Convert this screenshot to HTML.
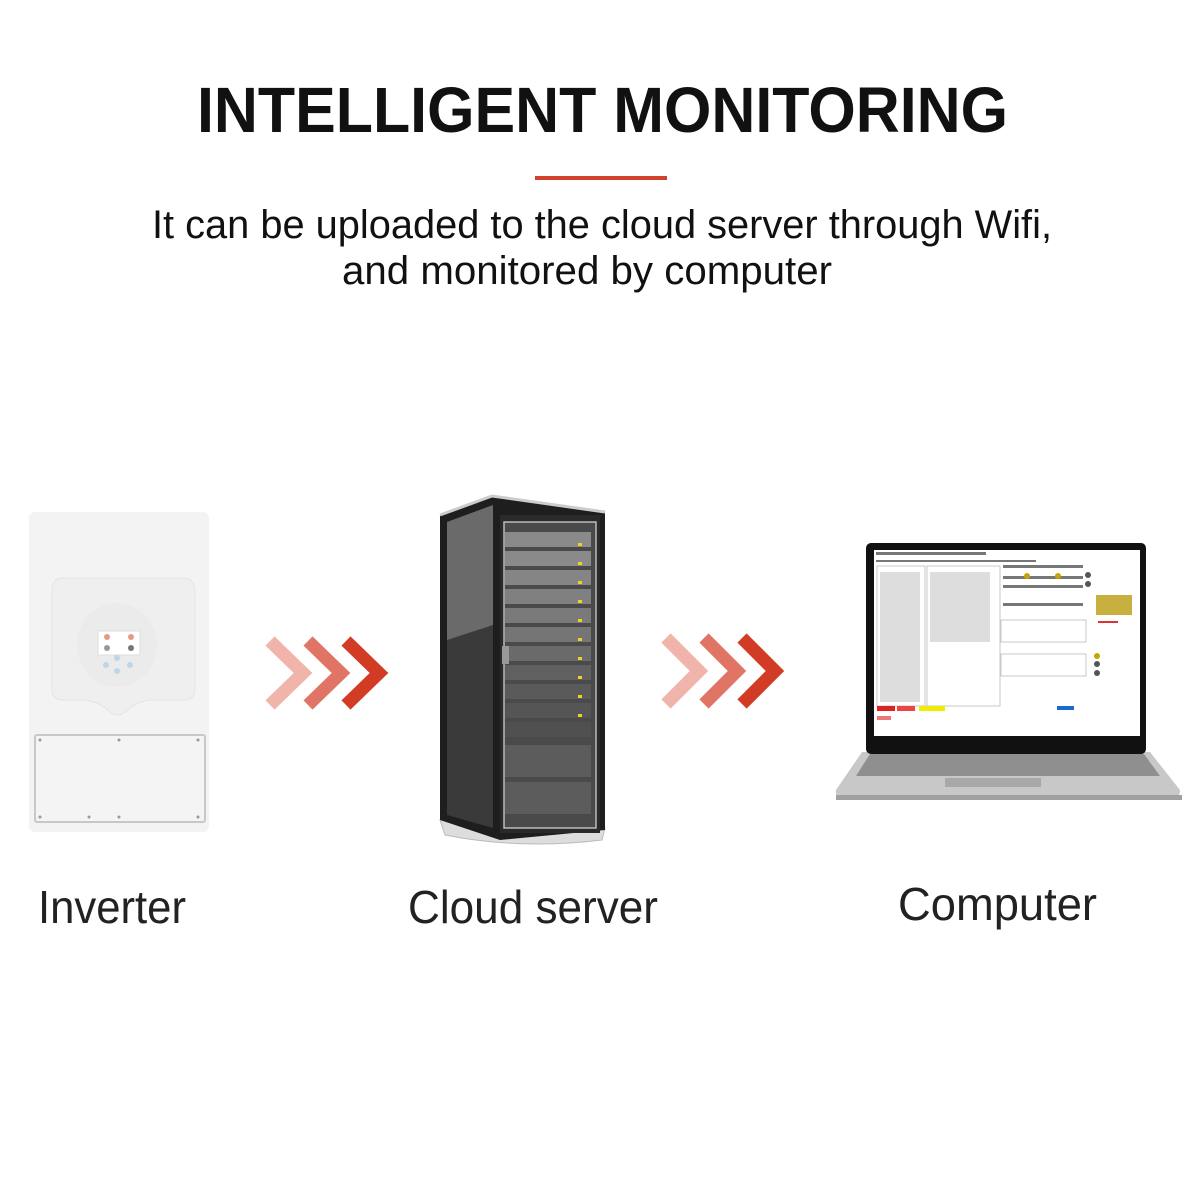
<!DOCTYPE html>
<html><head><meta charset="utf-8"><style>html,body{margin:0;padding:0;background:#fff}svg{display:block}</style></head><body>
<svg width="1200" height="1200" viewBox="0 0 1200 1200" xmlns="http://www.w3.org/2000/svg" font-family="Liberation Sans, sans-serif">
<rect width="1200" height="1200" fill="#fff"/>
<text x="197" y="132" font-size="64" font-weight="bold" textLength="811" lengthAdjust="spacingAndGlyphs" fill="#111">INTELLIGENT MONITORING</text>
<rect x="535" y="176" width="132" height="4" fill="#d0412e"/>
<text x="152" y="238" font-size="40" textLength="900" lengthAdjust="spacingAndGlyphs" fill="#111">It can be uploaded to the cloud server through Wifi,</text>
<text x="342" y="284" font-size="40" textLength="490" lengthAdjust="spacingAndGlyphs" fill="#111">and monitored by computer</text>

<!-- inverter -->
<rect x="29" y="512" width="180" height="320" rx="6" fill="#f3f3f3"/>
<path d="M62 578 H182 Q195 578 195 592 V690 Q195 700 182 700 H150 Q135 702 125 712 Q118 718 110 712 Q100 702 85 700 H64 Q52 700 52 690 V592 Q52 578 62 578Z" fill="#efefef" stroke="#e4e4e4"/>
<ellipse cx="117" cy="645" rx="40" ry="42" fill="#ebebeb"/>
<rect x="98" y="631" width="42" height="24" fill="#fff" stroke="#ddd"/>
<circle cx="107" cy="637" r="3" fill="#e79a86"/><circle cx="131" cy="637" r="3" fill="#e79a86"/>
<circle cx="107" cy="648" r="3" fill="#999"/><circle cx="131" cy="648" r="3" fill="#777"/>
<circle cx="106" cy="665" r="3" fill="#bcd7ea"/><circle cx="130" cy="665" r="3" fill="#bcd7ea"/><circle cx="117" cy="671" r="3" fill="#bcd7ea"/><circle cx="117" cy="658" r="3" fill="#bcd7ea"/>
<rect x="35" y="735" width="170" height="87" rx="2" fill="#f4f4f4" stroke="#c8c8c8" stroke-width="2"/>
<g fill="#999"><circle cx="40" cy="740" r="1.5"/><circle cx="119" cy="740" r="1.5"/><circle cx="198" cy="740" r="1.5"/><circle cx="40" cy="817" r="1.5"/><circle cx="89" cy="817" r="1.5"/><circle cx="119" cy="817" r="1.5"/><circle cx="198" cy="817" r="1.5"/></g>

<!-- chevrons -->
<g fill="none" stroke-width="13" stroke-linecap="butt">
<path d="M270 641 L303 673 L270 705" stroke="#f0b4aa"/>
<path d="M308 641 L341 673 L308 705" stroke="#e07566"/>
<path d="M346 641 L379 673 L346 705" stroke="#d23b24"/>
<path d="M666 638 L699 671 L666 704" stroke="#f0b4aa"/>
<path d="M704 638 L737 671 L704 704" stroke="#e07566"/>
<path d="M742 638 L775 671 L742 704" stroke="#d23b24"/>
</g>

<!-- server -->
<path d="M445 835 Q520 850 602 840 L605 828 L440 820Z" fill="#ddd" stroke="#bbb"/>
<path d="M440 515 L492 496 L605 512 L605 830 L500 840 L440 820Z" fill="#1e1e1e"/>
<path d="M447 522 L493 505 L493 828 L447 815Z" fill="#3a3a3a"/>
<path d="M447 522 L493 505 L493 625 L447 640Z" fill="#6a6a6a"/>
<rect x="500" y="515" width="100" height="318" fill="#2a2a2a"/>
<rect x="504" y="522" width="92" height="306" fill="#4a4a4a" stroke="#bbb" stroke-width="1.5"/>
<g>
<rect x="505" y="532" width="86" height="15" fill="#8a8a8a"/><rect x="505" y="551" width="86" height="15" fill="#8a8a8a"/>
<rect x="505" y="570" width="86" height="15" fill="#858585"/><rect x="505" y="589" width="86" height="15" fill="#808080"/>
<rect x="505" y="608" width="86" height="15" fill="#7a7a7a"/><rect x="505" y="627" width="86" height="15" fill="#757575"/>
<rect x="505" y="646" width="86" height="15" fill="#6a6a6a"/><rect x="505" y="665" width="86" height="15" fill="#606060"/>
<rect x="505" y="684" width="86" height="15" fill="#5a5a5a"/><rect x="505" y="703" width="86" height="15" fill="#555"/>
<rect x="505" y="722" width="86" height="15" fill="#505050"/>
<rect x="505" y="745" width="86" height="32" fill="#5c5c5c"/><rect x="505" y="782" width="86" height="32" fill="#5c5c5c"/>
</g>
<g fill="#f0d020"><rect x="578" y="543" width="4" height="3"/><rect x="578" y="562" width="4" height="3"/><rect x="578" y="581" width="4" height="3"/><rect x="578" y="600" width="4" height="3"/><rect x="578" y="619" width="4" height="3"/><rect x="578" y="638" width="4" height="3"/><rect x="578" y="657" width="4" height="3"/><rect x="578" y="676" width="4" height="3"/><rect x="578" y="695" width="4" height="3"/><rect x="578" y="714" width="4" height="3"/></g>
<rect x="502" y="646" width="7" height="18" fill="#999"/>
<path d="M440 515 L492 496 L605 512" fill="none" stroke="#ccc" stroke-width="3"/>

<!-- laptop -->
<path d="M862 752 H1150 L1180 790 Q1180 800 1170 800 H845 Q835 800 836 790Z" fill="#c8c8c8"/>
<path d="M870 754 H1144 L1160 776 H856Z" fill="#8f8f8f"/>
<rect x="945" y="778" width="96" height="9" fill="#a8a8a8"/>
<rect x="836" y="795" width="346" height="5" fill="#a0a0a0"/>
<rect x="866" y="543" width="280" height="211" rx="5" fill="#111"/>
<rect x="874" y="550" width="266" height="186" fill="#fff"/>
<g stroke="#bbb" fill="none" stroke-width="0.8">
<rect x="877" y="566" width="48" height="140"/><rect x="927" y="566" width="73" height="140"/>
<rect x="1001" y="620" width="85" height="22"/><rect x="1001" y="654" width="85" height="22"/>
</g>
<g fill="#777"><rect x="876" y="552" width="110" height="3"/><rect x="876" y="560" width="160" height="2"/>
<rect x="880" y="572" width="40" height="130" fill="#ddd"/><rect x="930" y="572" width="60" height="70" fill="#ddd"/>
<rect x="1003" y="565" width="80" height="3"/><rect x="1003" y="576" width="80" height="3"/><rect x="1003" y="585" width="80" height="3"/><rect x="1003" y="603" width="80" height="3"/></g>
<g fill="#c9a400"><circle cx="1027" cy="576" r="3"/><circle cx="1058" cy="576" r="3"/><circle cx="1097" cy="656" r="3"/></g>
<g fill="#555"><circle cx="1088" cy="575" r="3"/><circle cx="1088" cy="584" r="3"/><circle cx="1097" cy="664" r="3"/><circle cx="1097" cy="673" r="3"/></g>
<rect x="1096" y="595" width="36" height="20" fill="#c8b040"/><rect x="1098" y="621" width="20" height="2" fill="#d33"/>
<rect x="877" y="706" width="18" height="5" fill="#d22"/><rect x="897" y="706" width="18" height="5" fill="#e44"/><rect x="919" y="706" width="26" height="5" fill="#ee0"/>
<rect x="1057" y="706" width="17" height="4" fill="#1a6ad0"/>
<rect x="877" y="716" width="14" height="4" fill="#e77"/>
</g>

<g fill="#222" font-size="46">
<text x="38" y="923" textLength="148" lengthAdjust="spacingAndGlyphs">Inverter</text>
<text x="408" y="923" textLength="250" lengthAdjust="spacingAndGlyphs">Cloud server</text>
<text x="898" y="920" textLength="199" lengthAdjust="spacingAndGlyphs">Computer</text>
</g>
</svg>
</body></html>
